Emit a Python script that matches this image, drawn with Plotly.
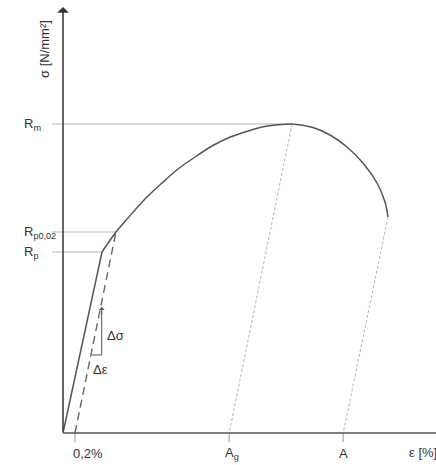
import plotly.graph_objects as go

# ---- data (schematic stress-strain diagram) ----
# strain in %, stress in relative units
elastic_eps = [0.0, 0.65]
elastic_sig = [0, 181]

offset_eps = [0.2, 0.883]
offset_sig = [0, 201]

curve_eps = [0.65, 0.883, 1.083, 1.367, 1.65, 1.917, 2.2, 2.483, 2.75, 3.033,
             3.317, 3.583, 3.817, 4.167, 4.45, 4.733, 5.0, 5.233, 5.367, 5.417]
curve_sig = [181, 201, 215, 234, 250, 264, 276, 287, 295, 301,
             306, 308.3, 309, 305.5, 298, 286, 270, 250, 231, 216]

Rm, Rp002, Rp = 309, 201, 181
eps_Rm, eps_Rp002, eps_Rp = 3.817, 0.883, 0.65
eps_end, sig_end = 5.417, 216

tick_vals = [0.2, 2.77, 4.67]
tick_text = ["0,2%", "A<sub>g</sub>", "A"]
tick_shift = [13, 3, 0]

y_labels = ["R<sub>m</sub>", "R<sub>p0,02</sub>", "R<sub>p</sub>"]
y_label_vals = [Rm, Rp002, Rp]

# triangle for slope
tri_eps = [0.483, 0.645]
tri_sig = [78, 126]

# ---- layout constants ----
X_MIN, X_MAX = -1.05, 6.2167
Y_MIN, Y_MAX = -32, 433
LINE_START = -0.183
FONT = "Liberation Sans, Arial, sans-serif"
TXT = "#333333"

fig = go.Figure()

def line(x, y, color, width, dash="solid", shape="linear", smoothing=1.0):
    ln = dict(color=color, width=width, dash=dash, shape=shape)
    if shape == "spline":
        ln["smoothing"] = smoothing
    fig.add_trace(go.Scatter(x=x, y=y, mode="lines", line=ln,
                             hoverinfo="skip", showlegend=False))

# horizontal reference lines
for lv, le in zip([Rm, Rp002, Rp], [eps_Rm, eps_Rp002, eps_Rp]):
    line([LINE_START, le], [lv, lv], "#b5b5b5", 1)

# dotted unloading lines
line([eps_Rm, tick_vals[1]], [Rm, 0], "#b5b5b5", 1, dash="3px,2px")
line([eps_end, tick_vals[2]], [sig_end, 0], "#b5b5b5", 1, dash="3px,2px")

# ticks below axis
for tv in tick_vals:
    line([tv, tv], [0, -9], "#999999", 1)

# offset (0.2%) dashed line
line(offset_eps, offset_sig, "#666666", 1.4, dash="8px,5px")

# elastic line
line(elastic_eps, elastic_sig, "#555555", 1.5)

# curve
line(curve_eps, curve_sig, "#555555", 1.5, shape="spline", smoothing=0.8)

# slope triangle
line([tri_eps[0], tri_eps[1], tri_eps[1]], [tri_sig[0], tri_sig[0], tri_sig[1] - 4], "#555555", 1)

# x axis
line([0, X_MAX], [0, 0], "#555555", 1.6)

annotations = []
# y axis with arrow
annotations.append(dict(x=0, y=426, ax=0, ay=0, xref="x", yref="y", axref="x", ayref="y",
                        showarrow=True, arrowhead=1, arrowsize=1.3, arrowwidth=1.5,
                        arrowcolor="#333333", text=""))
# triangle arrow
annotations.append(dict(x=tri_eps[1], y=tri_sig[1], ax=tri_eps[1], ay=tri_sig[1] - 10,
                        xref="x", yref="y", axref="x", ayref="y",
                        showarrow=True, arrowhead=1, arrowsize=1, arrowwidth=1,
                        arrowcolor="#555555", text=""))

for lab, v in zip(y_labels, y_label_vals):
    annotations.append(dict(x=-0.683, y=v, xref="x", yref="y", text=lab, showarrow=False,
                            xanchor="left", yanchor="middle",
                            font=dict(family=FONT, size=13, color=TXT)))

for lab, v, s in zip(tick_text, tick_vals, tick_shift):
    annotations.append(dict(x=v, y=-20, xref="x", yref="y", text=lab, showarrow=False,
                            xanchor="center", yanchor="middle", xshift=s,
                            font=dict(family=FONT, size=13, color=TXT)))

annotations.append(dict(x=5.733, y=-19, xref="x", yref="y", text="ε [%]", showarrow=False,
                        xanchor="left", yanchor="middle",
                        font=dict(family=FONT, size=13, color=TXT)))
annotations.append(dict(x=-0.317, y=384, xref="x", yref="y", text="σ [N/mm²]", showarrow=False,
                        textangle=-90, xanchor="center", yanchor="middle",
                        font=dict(family=FONT, size=13, color=TXT)))
annotations.append(dict(x=0.883, y=98, xref="x", yref="y", text="Δσ", showarrow=False,
                        xanchor="center", yanchor="middle",
                        font=dict(family=FONT, size=13, color=TXT)))
annotations.append(dict(x=0.62, y=64, xref="x", yref="y", text="Δε", showarrow=False,
                        xanchor="center", yanchor="middle",
                        font=dict(family=FONT, size=13, color=TXT)))

fig.update_layout(
    width=436, height=465,
    margin=dict(l=0, r=0, t=0, b=0),
    paper_bgcolor="white", plot_bgcolor="white",
    xaxis=dict(range=[X_MIN, X_MAX], visible=False, fixedrange=True),
    yaxis=dict(range=[Y_MIN, Y_MAX], visible=False, fixedrange=True),
    annotations=annotations,
    showlegend=False,
)

fig.write_html("out.html")
